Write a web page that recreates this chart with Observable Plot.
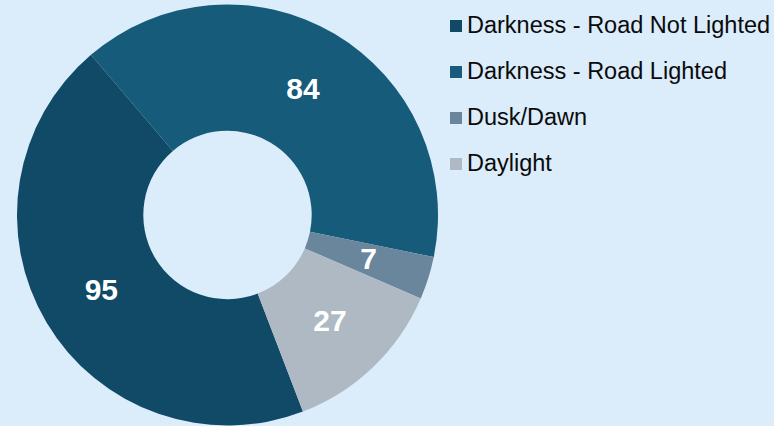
<!DOCTYPE html>
<html>
<head>
<meta charset="utf-8">
<script src="https://cdn.jsdelivr.net/npm/d3@7"></script>
<script src="https://cdn.jsdelivr.net/npm/@observablehq/plot@0.6"></script>
<style>
  html, body { margin: 0; padding: 0; }
  body { width: 774px; height: 426px; overflow: hidden; background: #dbecfb; font-family: "Liberation Sans", Arial, sans-serif; }
  #wrap { position: relative; width: 774px; height: 426px; }
  #legend { position: absolute; left: 450px; top: 2px; }
  .row { display: flex; align-items: center; height: 46px; font-size: 23.5px; color: #0a0a0a; white-space: nowrap; }
  .sw { width: 12px; height: 12px; margin-right: 5px; margin-top: 2px; flex: none; }
</style>
</head>
<body>
<div id="wrap"></div>
<script>
const categories = ["Darkness - Road Not Lighted", "Darkness - Road Lighted", "Dusk/Dawn", "Daylight"];
const values = [95, 84, 7, 27];
const colors = ["#104a66", "#165b7a", "#6a869c", "#aeb9c4"];
const firstSliceAngle = 159; // degrees, clockwise from 12 o'clock
const holeFraction = 0.4;

const data = categories.map((c, i) => ({label: c, value: values[i]}));
const pie = d3.pie().sort(null).value(d => d.value)
  .startAngle(firstSliceAngle * Math.PI / 180)
  .endAngle(firstSliceAngle * Math.PI / 180 + 2 * Math.PI);
const arcs = pie(data);
const colorOf = d3.scaleOrdinal(categories, colors);
const midR = (holeFraction + 1) / 2;

function ringMark(index, scales) {
  const cx = scales.x(0), cy = scales.y(0);
  const R = scales.x(1) - cx;
  const arc = d3.arc().innerRadius(R * holeFraction).outerRadius(R);
  const g = d3.create("svg:g").attr("transform", `translate(${cx},${cy})`);
  g.selectAll("path").data(arcs).join("path")
    .attr("d", arc)
    .attr("fill", d => colorOf(d.data.label));
  return g.node();
}

const chart = Plot.plot({
  width: 774,
  height: 426,
  marginLeft: 17,
  marginRight: 336,
  marginTop: 5,
  marginBottom: 1,
  x: {domain: [-1, 1], axis: null},
  y: {domain: [-1, 1], axis: null},
  style: {background: "transparent", overflow: "visible"},
  marks: [
    ringMark,
    Plot.text(arcs, {
      x: d => midR * Math.sin((d.startAngle + d.endAngle) / 2),
      y: d => midR * Math.cos((d.startAngle + d.endAngle) / 2),
      text: d => String(d.data.value),
      fill: "white",
      fontSize: 30,
      fontWeight: "bold",
      fontFamily: "Liberation Sans, Arial, sans-serif"
    })
  ]
});

const wrap = document.getElementById("wrap");
wrap.appendChild(chart);
chart.style.position = "absolute";
chart.style.left = "0";
chart.style.top = "0";

const legend = document.createElement("div");
legend.id = "legend";
categories.forEach((c, i) => {
  const row = document.createElement("div");
  row.className = "row";
  const sw = document.createElement("span");
  sw.className = "sw";
  sw.style.background = colors[i];
  const t = document.createElement("span");
  t.textContent = c;
  row.appendChild(sw);
  row.appendChild(t);
  legend.appendChild(row);
});
wrap.appendChild(legend);
</script>
</body>
</html>
